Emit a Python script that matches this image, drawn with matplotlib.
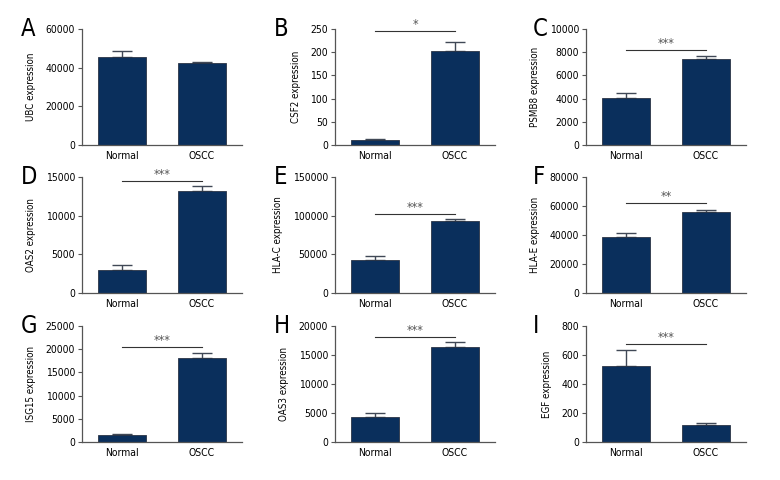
import matplotlib.pyplot as plt
import numpy as np

plt.rcParams['font.family'] = ['Liberation Sans Narrow', 'DejaVu Sans']
plt.rcParams['font.stretch'] = 'condensed'

groups = ['Normal', 'OSCC']
letters = ['A', 'B', 'C', 'D', 'E', 'F', 'G', 'H', 'I']
genes = ['UBC', 'CSF2', 'PSMB8', 'OAS2', 'HLA-C', 'HLA-E', 'ISG15', 'OAS3', 'EGF']
normal_mean = [45500, 10, 4060, 2970, 43000, 38600, 1420, 4360, 524]
normal_err = [3100, 2, 430, 600, 4300, 2800, 300, 570, 108]
oscc_mean = [42500, 202, 7380, 13220, 92500, 56100, 18030, 16430, 114]
oscc_err = [400, 21, 280, 680, 3100, 1400, 1200, 740, 14]
y_max = [60000, 250, 10000, 15000, 150000, 80000, 25000, 20000, 800]
y_step = [20000, 50, 2000, 5000, 50000, 20000, 5000, 5000, 200]
sig_text = ['', '*', '***', '***', '***', '**', '***', '***', '***']
sig_y = [0, 246, 8210, 14470, 102000, 61800, 20390, 18030, 678]

bar_col = '#0a2f5c'
lefts = [82, 335, 586]
bottoms = [145, 293, 442]

fig = plt.figure(figsize=(7.8, 4.8), dpi=100)

for i in range(9):
    r, c = i // 3, i % 3
    ax = fig.add_axes([lefts[c] / 780, 1 - bottoms[r] / 480, 160 / 780, 116 / 480])
    x = np.arange(2)
    ax.bar(x, [normal_mean[i], oscc_mean[i]], width=0.6, color=bar_col,
           edgecolor='#2b3445', linewidth=0.6, zorder=2)
    ax.errorbar(x, [normal_mean[i], oscc_mean[i]],
                yerr=[[0, 0], [normal_err[i], oscc_err[i]]],
                fmt='none', ecolor='#404856', elinewidth=1, capsize=7.5, capthick=1, zorder=1)
    ax.set_xlim(-0.5, 1.5)
    ax.set_ylim(0, y_max[i])
    ax.set_yticks(np.arange(0, y_max[i] + 1, y_step[i]))
    ax.set_xticks(x)
    ax.set_xticklabels(groups)
    ax.tick_params(axis='x', length=0, labelsize=7.5, pad=4)
    ax.tick_params(axis='y', length=3, width=0.8, labelsize=7.5, pad=2, color='#555555')
    for s in ['top', 'right']:
        ax.spines[s].set_visible(False)
    for s in ['left', 'bottom']:
        ax.spines[s].set_color('#555555')
        ax.spines[s].set_linewidth(0.9)
    ax.set_ylabel(genes[i] + ' expression', fontsize=7, labelpad=7)
    if sig_text[i]:
        ax.plot([0, 1], [sig_y[i], sig_y[i]], color='#333333', lw=0.8, clip_on=False)
        ax.text(0.5, sig_y[i], sig_text[i], ha='center', va='bottom', fontsize=9,
                color='#555555', clip_on=False)
    ax.text(-0.38 if c != 2 else -0.33, 1.1, letters[i], transform=ax.transAxes,
            fontsize=17, ha='left', va='top')

fig.savefig('out.png', dpi=100)
